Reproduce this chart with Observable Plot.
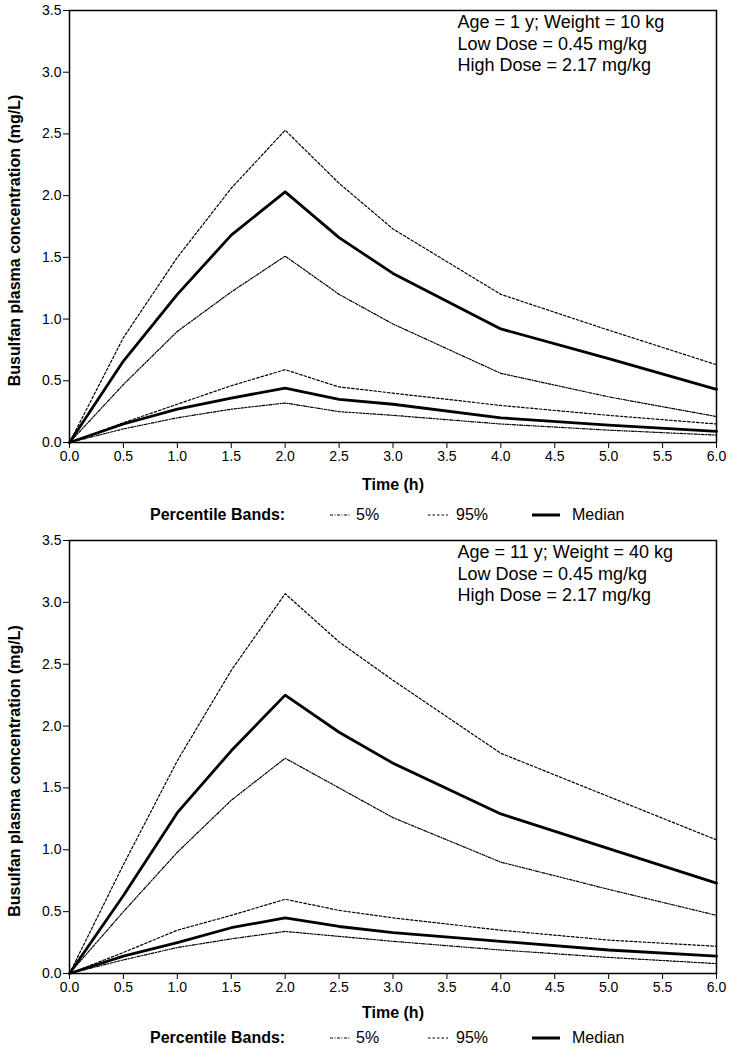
<!DOCTYPE html>
<html>
<head>
<meta charset="utf-8">
<script src="https://cdn.jsdelivr.net/npm/d3@7"></script>
<script src="https://cdn.jsdelivr.net/npm/@observablehq/plot@0.6"></script>
<style>
  html, body { margin: 0; padding: 0; background: #fff; }
  body { font-family: "Liberation Sans", Arial, sans-serif; color: #000; }
  #chart { width: 729px; position: relative; }
  .legend { position: relative; width: 729px; }
  .legend > * { position: absolute; top: 50%; transform: translateY(-50%); white-space: nowrap; }
  .legend .ttl { font-weight: bold; font-size: 16px; }
  .legend .lbl { font-size: 16px; }
</style>
</head>
<body>
<div id="chart"></div>
<script>
// ---- shared axes ----
const times = [0, 0.5, 1, 1.5, 2, 2.5, 3, 4, 5, 6];
const xTicks = [0, 0.5, 1, 1.5, 2, 2.5, 3, 3.5, 4, 4.5, 5, 5.5, 6];
const yTicks = [0, 0.5, 1, 1.5, 2, 2.5, 3, 3.5];
const xLabel = "Time (h)";
const yLabel = "Busulfan plasma concentration (mg/L)";
const legendTitle = "Percentile Bands:";
const bandNames = ["5%", "95%", "Median"];

// ---- panel 1: Age 1 y, 10 kg ----
const p1Info = ["Age = 1 y; Weight = 10 kg", "Low Dose = 0.45 mg/kg", "High Dose = 2.17 mg/kg"];
const p1HighP95 = [0, 0.85, 1.50, 2.06, 2.53, 2.10, 1.73, 1.20, 0.91, 0.63];
const p1HighMed = [0, 0.66, 1.20, 1.68, 2.03, 1.66, 1.37, 0.92, 0.68, 0.43];
const p1HighP5  = [0, 0.47, 0.90, 1.22, 1.51, 1.20, 0.96, 0.56, 0.37, 0.21];
const p1LowP95  = [0, 0.16, 0.31, 0.46, 0.59, 0.45, 0.40, 0.30, 0.22, 0.15];
const p1LowMed  = [0, 0.15, 0.27, 0.36, 0.44, 0.35, 0.31, 0.20, 0.14, 0.09];
const p1LowP5   = [0, 0.11, 0.20, 0.27, 0.32, 0.25, 0.22, 0.15, 0.10, 0.06];

// ---- panel 2: Age 11 y, 40 kg ----
const p2Info = ["Age = 11 y; Weight = 40 kg", "Low Dose = 0.45 mg/kg", "High Dose = 2.17 mg/kg"];
const p2HighP95 = [0, 0.88, 1.72, 2.45, 3.07, 2.68, 2.37, 1.78, 1.43, 1.08];
const p2HighMed = [0, 0.63, 1.30, 1.80, 2.25, 1.95, 1.70, 1.29, 1.01, 0.73];
const p2HighP5  = [0, 0.50, 0.98, 1.40, 1.74, 1.50, 1.26, 0.90, 0.68, 0.47];
const p2LowP95  = [0, 0.17, 0.35, 0.47, 0.60, 0.51, 0.45, 0.35, 0.27, 0.22];
const p2LowMed  = [0, 0.14, 0.25, 0.37, 0.45, 0.38, 0.33, 0.26, 0.19, 0.14];
const p2LowP5   = [0, 0.11, 0.21, 0.28, 0.34, 0.30, 0.26, 0.19, 0.13, 0.08];

// ---- styles ----
const bandStyle = {
  "5%":     {strokeWidth: 1.2, dash: "3,1.5,1,1.5"},
  "95%":    {strokeWidth: 1.2, dash: "2.5,2"},
  "Median": {strokeWidth: 2.8, dash: null}
};

function rows(values, band, dose) {
  return times.map((t, i) => ({t, v: values[i], band, dose}));
}

function panel(info, series, opts) {
  const data = series.flatMap(([vals, band, dose]) => rows(vals, band, dose));
  const lineMarks = bandNames.map(b => Plot.line(data.filter(d => d.band === b), {
    x: "t", y: "v", z: "dose", stroke: "black",
    strokeWidth: bandStyle[b].strokeWidth,
    strokeDasharray: bandStyle[b].dash || undefined,
    strokeLinejoin: "round"
  }));
  return Plot.plot({
    width: 729,
    height: opts.height,
    marginTop: opts.marginTop,
    marginLeft: 69,
    marginRight: 13,
    marginBottom: opts.marginBottom,
    style: {fontFamily: "'Liberation Sans', Arial, sans-serif", fontSize: "14px", color: "black", background: "white", overflow: "visible"},
    x: {domain: [0, 6]},
    y: {domain: [0, 3.5]},
    marks: [
      ...lineMarks,
      Plot.frame({stroke: "black", strokeWidth: 1.5}),
      Plot.axisX({ticks: xTicks, tickFormat: d3.format(".1f"), tickSize: 6, tickPadding: 3, fontSize: 14, label: null}),
      Plot.axisY({ticks: yTicks, tickFormat: d3.format(".1f"), tickSize: 6, tickPadding: 2, fontSize: 14, label: null}),
      Plot.text([xLabel], {frameAnchor: "bottom", textAnchor: "middle", dy: opts.xLabelDy, fontWeight: "bold", fontSize: 16}),
      Plot.text([yLabel], {frameAnchor: "left", textAnchor: "middle", rotate: -90, dx: -55, dy: 14, fontWeight: "bold", fontSize: 16}),
      Plot.text([info.join("\n")], {frameAnchor: "top-right", textAnchor: "start", lineAnchor: "top", dx: -259, dy: 3, fontSize: 18, lineHeight: 1.17})
    ]
  });
}

function legend(height) {
  const div = document.createElement("div");
  div.className = "legend";
  div.style.height = height + "px";
  const pos = [[330, 356], [428, 456], [532, 572]];
  let html = `<span class="ttl" style="left:150px">${legendTitle}</span>`;
  bandNames.forEach((b, i) => {
    const s = bandStyle[b];
    const len = b === "Median" ? 28 : 20;
    html += `<svg style="left:${pos[i][0]}px" width="${len}" height="8"><line x1="0" x2="${len}" y1="4" y2="4" stroke="black" stroke-width="${b === "Median" ? 3 : 1.2}" ${s.dash ? `stroke-dasharray="${s.dash}"` : ""}/></svg>`;
    html += `<span class="lbl" style="left:${pos[i][1]}px">${b}</span>`;
  });
  div.innerHTML = html;
  return div;
}

const chart = document.getElementById("chart");
chart.append(panel(p1Info, [
  [p1HighP95, "95%", "high"], [p1HighMed, "Median", "high"], [p1HighP5, "5%", "high"],
  [p1LowP95, "95%", "low"], [p1LowMed, "Median", "low"], [p1LowP5, "5%", "low"]
], {height: 498, marginTop: 10, marginBottom: 56, xLabelDy: 47}));
chart.append(legend(34));
chart.append(panel(p2Info, [
  [p2HighP95, "95%", "high"], [p2HighMed, "Median", "high"], [p2HighP5, "5%", "high"],
  [p2LowP95, "95%", "low"], [p2LowMed, "Median", "low"], [p2LowP5, "5%", "low"]
], {height: 494, marginTop: 8, marginBottom: 53, xLabelDy: 44}));
chart.append(legend(24));
</script>
</body>
</html>
